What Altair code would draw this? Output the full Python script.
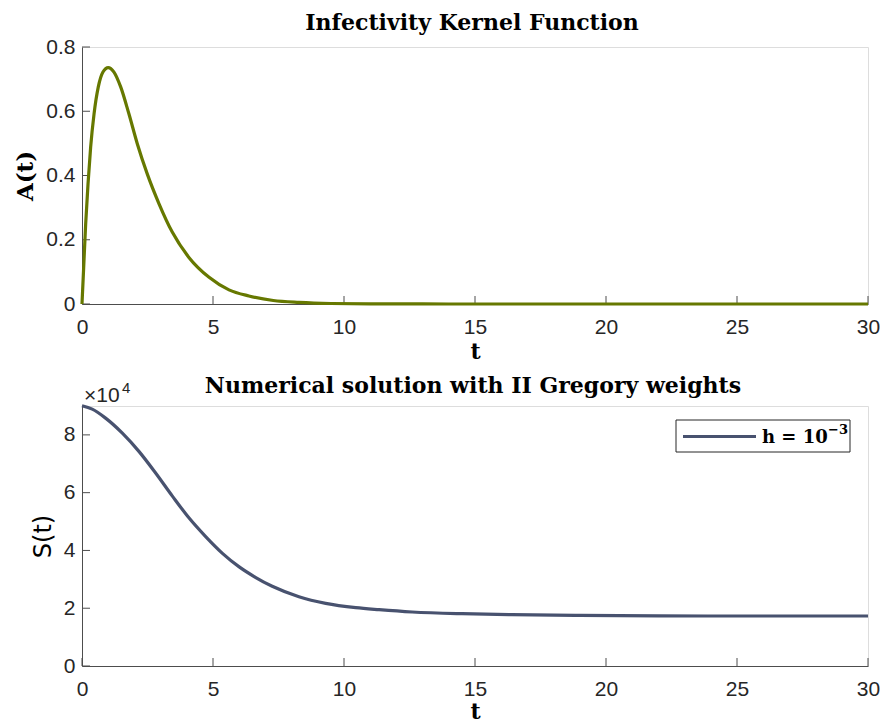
import altair as alt
import pandas as pd

# ---- data ----
tA = [0, 0.064, 0.14, 0.23, 0.33, 0.46, 0.62, 0.80, 1.00, 1.22, 1.48, 1.79, 2.11, 2.49,
      2.94, 3.45, 4.08, 4.85, 5.61, 6.37, 7.3, 8.28, 9.5, 11, 13, 15, 20, 25, 30]
A = [0, 0.114, 0.249, 0.374, 0.488, 0.592, 0.675, 0.722, 0.736, 0.722, 0.675, 0.592, 0.499, 0.405,
     0.312, 0.223, 0.145, 0.083, 0.044, 0.025, 0.011, 0.005, 0.0015, 0.0004, 0.0001, 0, 0, 0, 0]

tS = [0, 0.39, 0.90, 1.54, 2.18, 2.81, 3.45, 4.08, 4.72, 5.36, 6.0, 6.6, 7.26, 8.28, 9.30,
      10.45, 11.34, 12.6, 14.5, 16.4, 19, 22, 26, 30]
S = [90100, 88900, 85800, 80600, 74200, 66800, 58800, 51300, 44800, 39000, 34300, 30800,
     27600, 24000, 21700, 20200, 19500, 18700, 18100, 17800, 17500, 17350, 17300, 17300]

x_ticks = [0, 5, 10, 15, 20, 25, 30]
a_ticks = [0, 0.2, 0.4, 0.6, 0.8]
s_ticks = [0, 20000, 40000, 60000, 80000]

title_top = ["Infectivity Kernel Function"]
title_bottom = ["Numerical solution with II Gregory weights"]
legend_base = ["h = 10"]
legend_sup = ["\u22123"]
exp_base = ["\u00d710"]
exp_sup = ["4"]

W, H1, H2 = 786, 257, 260
SANS = "Liberation Sans"
SERIF = "DejaVu Serif"
AXC = "#4d4d4d"
GREEN = "#667800"
BLUE = "#48526F"

common = dict(ticks=False, grid=False, domainColor=AXC, domainWidth=1,
              labelFont=SANS, labelFontSize=21, labelColor="#262626",
              titleFont=SERIF, titleFontWeight="bold", titleFontSize=22,
              titleColor="#000000", labelFlush=False)

xscale = alt.Scale(domain=[0, 30], nice=False)

# ---------- top panel ----------
dfA = pd.DataFrame({"t": tA, "A": A})
ascale = alt.Scale(domain=[0, 0.8], nice=False)

lineA = alt.Chart(dfA).mark_line(color=GREEN, strokeWidth=3.2, interpolate="monotone").encode(
    x=alt.X("t:Q", scale=xscale,
            axis=alt.Axis(values=x_ticks, title="t", labelPadding=12, titlePadding=4, **common)),
    y=alt.Y("A:Q", scale=ascale,
            axis=alt.Axis(values=a_ticks, title="A(t)", labelPadding=7, titlePadding=8,
                          format="~g", **{**common, "titleFontSize": 23})),
)
xtA = alt.Chart(pd.DataFrame({"t": x_ticks})).mark_rule(color=AXC, strokeWidth=1).encode(
    x=alt.X("t:Q", scale=xscale), y=alt.value(H1), y2=alt.value(H1 - 8))
ytA = alt.Chart(pd.DataFrame({"A": a_ticks})).mark_rule(color=AXC, strokeWidth=1).encode(
    y=alt.Y("A:Q", scale=ascale), x=alt.value(0), x2=alt.value(8))
ttlA = alt.Chart(pd.DataFrame({"s": title_top})).mark_text(
    font=SERIF, fontWeight="bold", fontSize=22, align="center", baseline="alphabetic",
    color="#000000").encode(x=alt.value(W / 2 - 3), y=alt.value(-17), text="s:N")

top = alt.layer(xtA, ytA, lineA, ttlA).properties(width=W, height=H1)

# ---------- bottom panel ----------
dfS = pd.DataFrame({"t": tS, "S": S})
sscale = alt.Scale(domain=[0, 90000], nice=False)

lineS = alt.Chart(dfS).mark_line(color=BLUE, strokeWidth=3.2, interpolate="monotone").encode(
    x=alt.X("t:Q", scale=xscale,
            axis=alt.Axis(values=x_ticks, title="t", labelPadding=12, titlePadding=2, **common)),
    y=alt.Y("S:Q", scale=sscale,
            axis=alt.Axis(values=s_ticks, title="S(t)", labelPadding=7, titlePadding=8,
                          labelExpr="datum.value / 10000",
                          **{**common, "titleFont": "DejaVu Sans", "titleFontWeight": "normal",
                             "titleFontSize": 24})),
)
xtS = alt.Chart(pd.DataFrame({"t": x_ticks})).mark_rule(color=AXC, strokeWidth=1).encode(
    x=alt.X("t:Q", scale=xscale), y=alt.value(H2), y2=alt.value(H2 - 8))
ytS = alt.Chart(pd.DataFrame({"S": s_ticks})).mark_rule(color=AXC, strokeWidth=1).encode(
    y=alt.Y("S:Q", scale=sscale), x=alt.value(0), x2=alt.value(8))
ttlS = alt.Chart(pd.DataFrame({"s": title_bottom})).mark_text(
    font=SERIF, fontWeight="bold", fontSize=22, align="center", baseline="alphabetic",
    color="#000000").encode(x=alt.value(W / 2 - 2), y=alt.value(-13), text="s:N")
expB = alt.Chart(pd.DataFrame({"s": exp_base})).mark_text(
    font=SANS, fontSize=21, align="left", baseline="alphabetic", color="#262626").encode(
    x=alt.value(2), y=alt.value(-4), text="s:N")
expU = alt.Chart(pd.DataFrame({"s": exp_sup})).mark_text(
    font=SANS, fontSize=15, align="left", baseline="alphabetic", color="#262626").encode(
    x=alt.value(40), y=alt.value(-13), text="s:N")

legBox = alt.Chart(pd.DataFrame({"s": legend_base})).mark_rect(
    fill="white", stroke="#262626", strokeWidth=1).encode(
    x=alt.value(594), x2=alt.value(768), y=alt.value(14), y2=alt.value(46))
legLine = alt.Chart(pd.DataFrame({"s": legend_base})).mark_rule(color=BLUE, strokeWidth=3.2).encode(
    x=alt.value(601), x2=alt.value(674), y=alt.value(30.5))
legText = alt.Chart(pd.DataFrame({"s": legend_base})).mark_text(
    font=SERIF, fontWeight="bold", fontSize=18, align="left", baseline="alphabetic",
    color="#000000").encode(x=alt.value(680), y=alt.value(37), text="s:N")
legSup = alt.Chart(pd.DataFrame({"s": legend_sup})).mark_text(
    font=SERIF, fontWeight="bold", fontSize=13, align="left", baseline="alphabetic",
    color="#000000").encode(x=alt.value(746), y=alt.value(28), text="s:N")

bottom = alt.layer(xtS, ytS, lineS, legBox, legLine, legText, legSup, ttlS, expB, expU).properties(
    width=W, height=H2)

chart = alt.vconcat(top, bottom, spacing=11).properties(
    padding={"left": 14, "top": 11, "right": 5, "bottom": 0}
).configure_view(stroke=None).configure(background="white")

chart.save("out.html", embed_options={"renderer": "svg", "actions": False})
